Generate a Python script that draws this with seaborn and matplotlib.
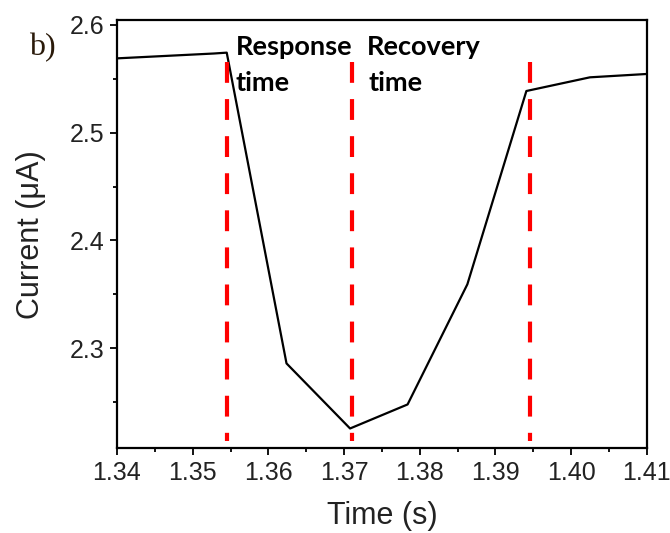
import matplotlib
matplotlib.use("Agg")
import matplotlib.pyplot as plt
import seaborn as sns
import pandas as pd

# data
time_s = [1.3400, 1.3528, 1.3545, 1.3624, 1.3708, 1.3784, 1.3863, 1.3941, 1.4025, 1.4100]
current_uA = [2.569, 2.5735, 2.5743, 2.2859, 2.2255, 2.2478, 2.3593, 2.5387, 2.5514, 2.5545]
marker_times = [1.3546, 1.3710, 1.3946]
x_ticks = [1.34, 1.35, 1.36, 1.37, 1.38, 1.39, 1.40, 1.41]
x_tick_labels = ["1.34", "1.35", "1.36", "1.37", "1.38", "1.39", "1.40", "1.41"]
y_ticks = [2.3, 2.4, 2.5, 2.6]
y_tick_labels = ["2.3", "2.4", "2.5", "2.6"]

sns.set_style("ticks")
plt.rcParams["font.family"] = ["Liberation Sans", "DejaVu Sans"]

fig = plt.figure(figsize=(6.7, 5.33), dpi=100)
ax = fig.add_axes([117/670, 1-448.3/533, (646.7-117)/670, (448.3-20)/533])

df = pd.DataFrame({"Time (s)": time_s, "Current": current_uA})
sns.lineplot(data=df, x="Time (s)", y="Current", color="black", linewidth=1.6,
             sort=False, ax=ax, estimator=None)

for xm in marker_times:
    ax.plot([xm, xm], [2.5656, 2.2137], color="#ff0000", linewidth=3.0,
            dashes=(5.0, 3.9), solid_capstyle="butt", dash_capstyle="butt")

ax.set_xlim(1.34, 1.41)
ax.set_ylim(2.2071, 2.6046)
ax.set_xticks(x_ticks)
ax.set_xticklabels(x_tick_labels)
ax.set_yticks(y_ticks)
ax.set_yticklabels(y_tick_labels)
ax.set_xticks([1.345, 1.355, 1.365, 1.375, 1.385, 1.395, 1.405], minor=True)
ax.set_yticks([2.25, 2.35, 2.45, 2.55], minor=True)

for s in ax.spines.values():
    s.set_visible(True)
    s.set_linewidth(1.6)
    s.set_color("black")
ax.tick_params(which="major", direction="out", length=5, width=1.3,
               labelsize=18, colors="black", labelcolor="#222222", pad=4)
ax.tick_params(which="minor", direction="out", length=3, width=1.3, colors="black")
ax.tick_params(top=False, right=False, which="both")

ax.set_xlabel("Time (s)", fontsize=22, color="#222222", labelpad=12)
ax.set_ylabel("Current (\u03bcA)", fontsize=22, color="#222222", labelpad=17)

tfont = dict(fontsize=19.5, fontweight="bold", family=["Lato", "DejaVu Sans"], va="baseline", ha="left", color="black")
ax.text(1.3557, 2.5721, "Response", **tfont)
ax.text(1.3557, 2.5387, "time", **tfont)
ax.text(1.3730, 2.5721, "Recovery", **tfont)
ax.text(1.3733, 2.5387, "time", **tfont)

fig.text(29/670, 1-55/533, "b)", fontsize=23, family=["Liberation Serif", "DejaVu Serif"],
         color="#2a1a0a", va="baseline", ha="left")

fig.savefig("out.png", dpi=100)
